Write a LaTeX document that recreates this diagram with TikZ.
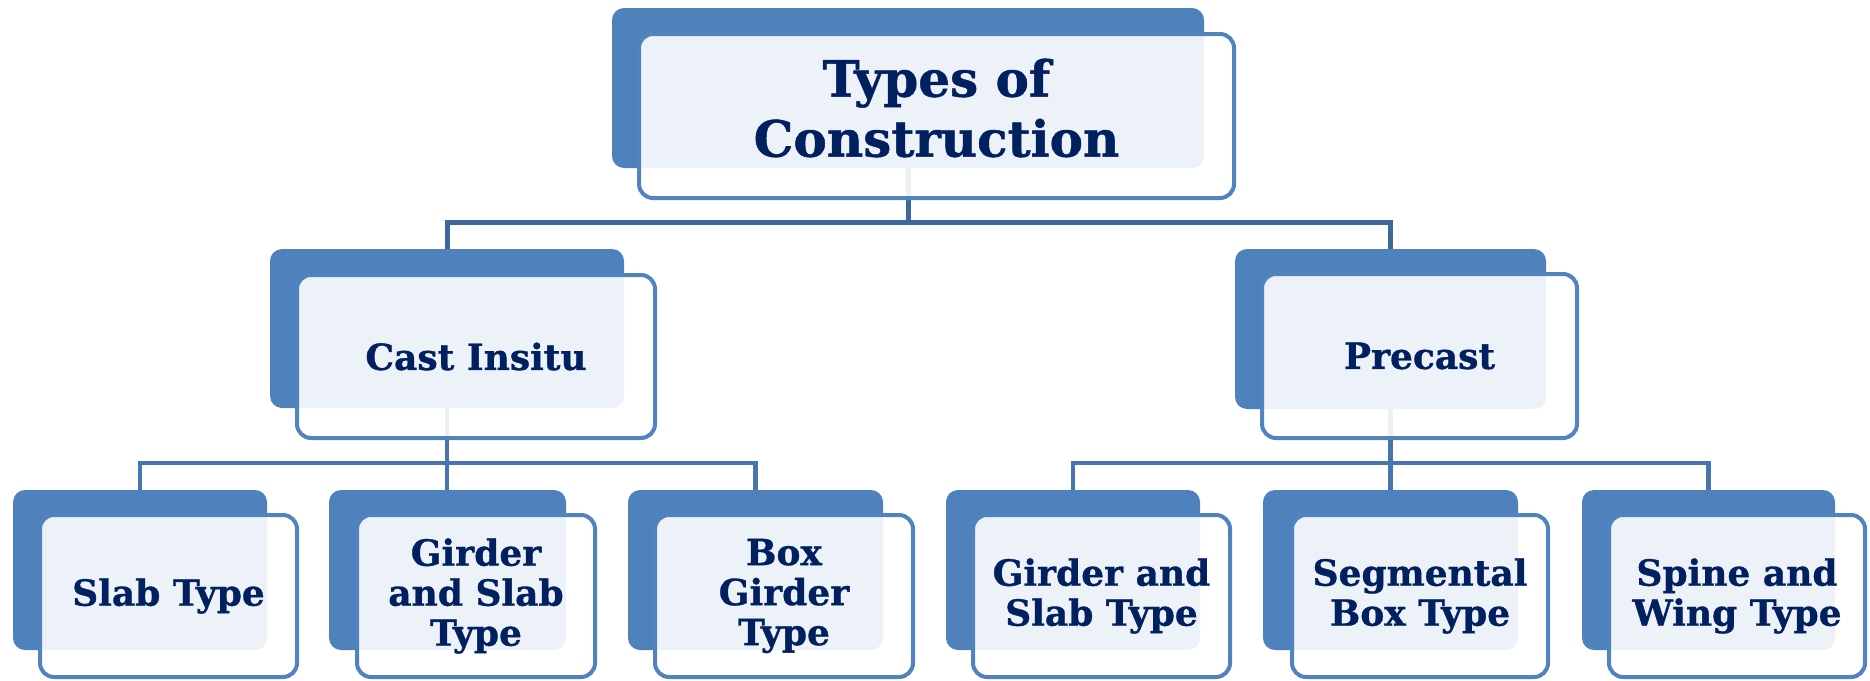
\documentclass[tikz,border=0pt]{standalone}
\usepackage{fontspec}
\setmainfont{DejaVu Serif}[BoldFeatures={FakeBold=0.9}]
\definecolor{backblue}{HTML}{4F81BD}
\definecolor{edgeblue}{HTML}{5183BE}
\definecolor{linetop}{HTML}{3E6899}
\definecolor{linelow}{HTML}{4775AE}
\definecolor{navy}{HTML}{002060}
\tikzset{
  backbox/.style={rectangle, rounded corners=12pt, fill=backblue, inner sep=0pt, minimum height=160pt},
  frontbox/.style={rectangle, rounded corners=14pt, draw=edgeblue, line width=4pt, fill=white, fill opacity=0.9, text opacity=1, text=navy, inner sep=0pt, align=center, font=\bfseries\fontsize{36}{40}\selectfont},
  bigtext/.style={text=navy, align=center, inner sep=0pt, font=\bfseries\fontsize{50}{60}\selectfont},
  conntop/.style={draw=linetop, line width=5pt},
  connlow/.style={draw=linelow, line width=4.5pt},
}
\begin{document}
\begin{tikzpicture}[x=1pt,y=-1pt]
\useasboundingbox (0,0) rectangle (1870,680);
% back rectangles
\node[backbox, minimum width=592pt] (tb) at (908,88) {};
\node[backbox, minimum width=354pt, minimum height=159pt] (cb) at (447,328.5) {};
\node[backbox, minimum width=311pt] (pb) at (1390.5,329) {};
\node[backbox, minimum width=254pt] (s1b) at (140,570) {};
\node[backbox, minimum width=237pt] (s2b) at (447.5,570) {};
\node[backbox, minimum width=255pt] (s3b) at (755.5,570) {};
\node[backbox, minimum width=254pt] (p1b) at (1073,570) {};
\node[backbox, minimum width=255pt] (p2b) at (1390.5,570) {};
\node[backbox, minimum width=253pt] (p3b) at (1708.5,570) {};
% levels of the bars
\coordinate (bar1) at (0,222);
\coordinate (bar2) at (0,463);
% connectors
\draw[conntop] (tb.south) -- (tb.south |- bar1) -| (cb.north);
\draw[conntop] (tb.south |- bar1) -| (pb.north);
\draw[connlow] (cb.south) -- (cb.south |- bar2) -| (s1b.north);
\draw[connlow] (cb.south |- bar2) -| (s3b.north);
\draw[connlow] (cb.south) -- (cb.south |- s2b.north);
\draw[connlow] (pb.south) -- (pb.south |- bar2) -| (p1b.north);
\draw[connlow] (pb.south |- bar2) -| (p3b.north);
\draw[connlow] (pb.south) -- (pb.south |- p2b.north);
% front boxes
\node[frontbox, minimum width=595pt, minimum height=164pt] (tf) at (936.5,116) {};
\node[bigtext] (tt) at ([yshift=8pt]tf.center) {Types of\\Construction};
\node[frontbox, minimum width=358pt, minimum height=163pt] (cf) at (476,356.5) {Cast Insitu};
\node[frontbox, minimum width=315pt, minimum height=164pt] (pf) at (1419.5,356) {Precast};
\node[frontbox, minimum width=257pt, minimum height=162pt] (s1f) at (168.5,596) {Slab Type};
\node[frontbox, minimum width=238pt, minimum height=162pt] (s2f) at (476,596) {Girder\\and Slab\\Type};
\node[frontbox, minimum width=258pt, minimum height=162pt] (s3f) at (784,596) {Box\\Girder\\Type};
\node[frontbox, minimum width=257pt, minimum height=162pt] (p1f) at (1101.5,596) {Girder and\\Slab Type};
\node[frontbox, minimum width=256pt, minimum height=162pt] (p2f) at (1420,596) {Segmental\\Box Type};
\node[frontbox, minimum width=256pt, minimum height=162pt] (p3f) at (1737,596) {Spine and\\Wing Type};
\end{tikzpicture}
\end{document}
